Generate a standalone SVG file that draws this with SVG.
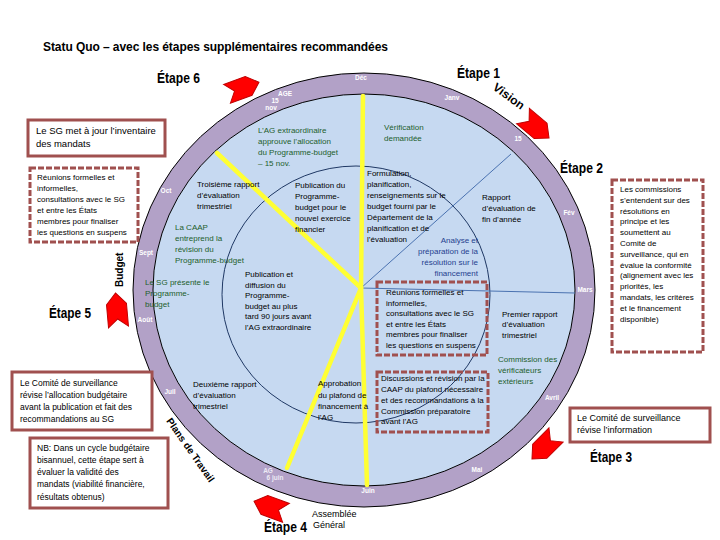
<svg xmlns="http://www.w3.org/2000/svg" width="720" height="540" viewBox="0 0 720 540">
<defs>
<style>
.t{font-family:"Liberation Sans",Arial,sans-serif;font-size:8px;fill:#000}
.g{fill:#1d5e2c}
.n{fill:#1f3f8f}
.m{font-family:"Liberation Sans",Arial,sans-serif;font-size:6.5px;font-weight:bold;fill:#fff;text-anchor:middle}
.h{font-family:"Liberation Sans",Arial,sans-serif;font-weight:bold;font-size:14px;fill:#000}
.lbl{font-family:"Liberation Sans",Arial,sans-serif;font-weight:bold;font-size:10px;fill:#000}
.box{fill:#fff;stroke:#a0504f;stroke-width:3}
.dbox{fill:#fff;stroke:#a0504f;stroke-width:3;stroke-dasharray:6 2}
.dboxi{fill:none;stroke:#a0504f;stroke-width:3;stroke-dasharray:6 2}
.yl{stroke:#ffff33;stroke-width:4.5;fill:none;stroke-linecap:round}
.bl{stroke:#4a72b0;stroke-width:1;fill:none}
.chev{fill:#ff0000;stroke:#c00000;stroke-width:1}
</style>
<path id="chev" d="M -17,-10 L 6,-10 L 17,0 L 6,10 L -17,10 L -9,0 Z"/>
</defs>
<rect width="720" height="540" fill="#fff"/>

<text x="43" y="51" font-family="Liberation Sans, Arial, sans-serif" font-size="12" font-weight="bold" textLength="345" lengthAdjust="spacing">Statu Quo – avec les étapes supplémentaires recommandées</text>

<g id="wheel">
<ellipse cx="364" cy="290" rx="231" ry="217" fill="#b2a1c7" stroke="#000" stroke-width="1"/>
<ellipse cx="364" cy="290" rx="211" ry="196" fill="#c6d9f1" stroke="#000" stroke-width="1"/>
<ellipse cx="356" cy="294.5" rx="134" ry="128.5" fill="none" stroke="#1f3864" stroke-width="1"/>
</g>

<g id="connectors">
<line class="bl" x1="361" y1="288" x2="511" y2="154"/>
<line class="bl" x1="361" y1="288" x2="575" y2="293"/>
<line class="yl" x1="363" y1="96" x2="361" y2="288"/>
<line class="yl" x1="217" y1="153" x2="361" y2="288"/>
<line class="yl" x1="287" y1="468" x2="361" y2="288"/>
<line class="yl" x1="367" y1="485" x2="361" y2="288"/>
</g>

<g id="months">
<text class="m" x="361" y="80">Déc</text>
<text class="m" x="452" y="100">Janv</text>
<text class="m" x="518" y="141">15</text>
<text class="m" x="569" y="215">Fév</text>
<text class="m" x="585" y="292">Mars</text>
<text class="m" x="552" y="400">Avril</text>
<text class="m" x="477" y="472">Mai</text>
<text class="m" x="368" y="493">Juin</text>
<text class="m" x="268" y="473" style="fill:#eceaf4">AG</text>
<text class="m" x="275" y="480" style="fill:#eceaf4">6 juin</text>
<text class="m" x="170" y="394">Juil</text>
<text class="m" x="145" y="322">Août</text>
<text class="m" x="146" y="255">Sept</text>
<text class="m" x="166" y="193">Oct</text>
<text class="m" x="285" y="96">AGE</text>
<text class="m" x="275" y="103">15</text>
<text class="m" x="271" y="110">nov</text>
</g>

<g id="arrows">
<use href="#chev" class="chev" transform="translate(243,88) rotate(-20)"/>
<use href="#chev" class="chev" transform="translate(536,127) rotate(40)"/>
<use href="#chev" class="chev" transform="translate(544,447) rotate(135)"/>
<use href="#chev" class="chev" transform="translate(270,507) rotate(200)"/>
<use href="#chev" class="chev" transform="translate(117,310) rotate(-95)"/>
</g>

<g id="stage-labels">
<text class="h" x="157" y="83" textLength="43" lengthAdjust="spacingAndGlyphs">Étape 6</text>
<text class="h" x="457" y="78" textLength="43" lengthAdjust="spacingAndGlyphs">Étape 1</text>
<text class="h" x="560" y="173" textLength="43" lengthAdjust="spacingAndGlyphs">Étape 2</text>
<text class="h" x="590" y="462" textLength="42" lengthAdjust="spacingAndGlyphs">Étape 3</text>
<text class="h" x="264" y="532" textLength="43" lengthAdjust="spacingAndGlyphs">Étape 4</text>
<text class="h" x="49" y="318" textLength="42" lengthAdjust="spacingAndGlyphs">Étape 5</text>
<text class="lbl" style="font-size:12px" transform="translate(492,89) rotate(36)">Vision</text>
<text class="lbl" transform="translate(123,287) rotate(-90)">Budget</text>
<text class="lbl" transform="translate(166,421) rotate(55)">Plans de Travail</text>
<text class="t" x="312" y="517" style="font-size:9px">Assemblée</text>
<text class="t" x="313" y="528" style="font-size:9px">Général</text>
</g>

<g id="wheel-texts">
<text class="t g" x="258"><tspan x="258" y="133">L’AG extraordinaire</tspan><tspan x="258" y="144">approuve l’allocation</tspan><tspan x="258" y="155">du Programme-budget</tspan><tspan x="258" y="166">– 15 nov.</tspan></text>
<text class="t g"><tspan x="384" y="130">Vérification</tspan><tspan x="384" y="141">demandée</tspan></text>
<text class="t"><tspan x="197" y="187">Troisième rapport</tspan><tspan x="197" y="198">d’évaluation</tspan><tspan x="197" y="209">trimestriel</tspan></text>
<text class="t"><tspan x="295" y="188">Publication du</tspan><tspan x="295" y="199">Programme-</tspan><tspan x="295" y="210">budget pour le</tspan><tspan x="295" y="221">nouvel exercice</tspan><tspan x="295" y="232">financier</tspan></text>
<text class="t"><tspan x="367" y="176">Formulation,</tspan><tspan x="367" y="187">planification,</tspan><tspan x="367" y="198">renseignements sur le</tspan><tspan x="367" y="209">budget fourni par le</tspan><tspan x="367" y="220">Département de la</tspan><tspan x="367" y="231">planification et de</tspan><tspan x="367" y="242">l’évaluation</tspan></text>
<text class="t"><tspan x="482" y="200">Rapport</tspan><tspan x="482" y="211">d’évaluation de</tspan><tspan x="482" y="222">fin d’année</tspan></text>
<text class="t n" text-anchor="end"><tspan x="478" y="243">Analyse et</tspan><tspan x="478" y="254">préparation de la</tspan><tspan x="478" y="265">résolution sur le</tspan><tspan x="478" y="276">financement</tspan></text>
<text class="t g"><tspan x="175" y="230">La CAAP</tspan><tspan x="175" y="241">entreprend la</tspan><tspan x="175" y="252">révision du</tspan><tspan x="175" y="263">Programme-budget</tspan></text>
<text class="t g"><tspan x="145" y="285">Le SG présente le</tspan><tspan x="145" y="296">Programme-</tspan><tspan x="145" y="307">budget</tspan></text>
<text class="t"><tspan x="245" y="277">Publication et</tspan><tspan x="245" y="288">diffusion du</tspan><tspan x="245" y="298">Programme-</tspan><tspan x="245" y="309">budget au plus</tspan><tspan x="245" y="319">tard 90 jours avant</tspan><tspan x="245" y="330">l’AG extraordinaire</tspan></text>
<text class="t"><tspan x="502" y="317">Premier rapport</tspan><tspan x="502" y="327">d’évaluation</tspan><tspan x="502" y="338">trimestriel</tspan></text>
<text class="t g"><tspan x="498" y="362">Commission des</tspan><tspan x="498" y="373">vérificateurs</tspan><tspan x="498" y="384">extérieurs</tspan></text>
<text class="t"><tspan x="193" y="387">Deuxième rapport</tspan><tspan x="193" y="398">d’évaluation</tspan><tspan x="193" y="409">trimestriel</tspan></text>
<text class="t"><tspan x="318" y="386">Approbation</tspan><tspan x="318" y="398">du plafond de</tspan><tspan x="318" y="409">financement à</tspan><tspan x="318" y="420">l’AG</tspan></text>
</g>

<g id="box-inventaire">
<rect class="box" x="28" y="120" width="137" height="36"/>
<text class="t" style="font-size:9.5px"><tspan x="36" y="134">Le SG met à jour l’inventaire</tspan><tspan x="36" y="147">des mandats</tspan></text>
</g>

<g id="box-reunions-gauche">
<rect class="dbox" x="30" y="168" width="108" height="74"/>
<text class="t"><tspan x="37" y="180">Réunions formelles et</tspan><tspan x="37" y="191">informelles,</tspan><tspan x="37" y="202">consultations avec le SG</tspan><tspan x="37" y="213">et entre les États</tspan><tspan x="37" y="224">membres pour finaliser</tspan><tspan x="37" y="235">les questions en suspens</tspan></text>
</g>

<g id="box-comite-allocation">
<rect class="box" x="12" y="372" width="140" height="58"/>
<text class="t" style="font-size:8.5px"><tspan x="20" y="386">Le Comité de surveillance</tspan><tspan x="20" y="398">révise l’allocation budgétaire</tspan><tspan x="20" y="410">avant la publication et fait des</tspan><tspan x="20" y="422">recommandations au SG</tspan></text>
</g>

<g id="box-nb">
<rect class="box" x="30" y="438" width="138" height="70"/>
<text class="t" style="font-size:8.5px"><tspan x="37" y="451">NB: Dans un cycle budgétaire</tspan><tspan x="37" y="463">bisannuel, cette étape sert à</tspan><tspan x="37" y="475">évaluer la validité des</tspan><tspan x="37" y="487">mandats (viabilité financière,</tspan><tspan x="37" y="500">résultats obtenus)</tspan></text>
</g>

<g id="box-reunions-centre">
<rect class="dboxi" x="377" y="282" width="110" height="73"/>
<text class="t"><tspan x="386" y="295">Réunions formelles et</tspan><tspan x="386" y="306">informelles,</tspan><tspan x="386" y="316">consultations avec le SG</tspan><tspan x="386" y="327">et entre les États</tspan><tspan x="386" y="337">membres pour finaliser</tspan><tspan x="386" y="348">les questions en suspens</tspan></text>
</g>

<g id="box-discussions">
<rect class="dboxi" x="377" y="372" width="111" height="60"/>
<text class="t"><tspan x="381" y="381">Discussions et révision par la</tspan><tspan x="381" y="392">CAAP du plafond nécessaire</tspan><tspan x="381" y="403">et des recommandations à la</tspan><tspan x="381" y="414">Commission préparatoire</tspan><tspan x="381" y="424">avant l’AG</tspan></text>
</g>

<g id="box-commissions">
<rect class="dbox" x="612" y="180" width="91" height="172"/>
<text class="t"><tspan x="620" y="192">Les commissions</tspan><tspan x="620" y="203">s’entendent sur des</tspan><tspan x="620" y="214">résolutions en</tspan><tspan x="620" y="224">principe et les</tspan><tspan x="620" y="235">soumettent au</tspan><tspan x="620" y="246">Comité de</tspan><tspan x="620" y="257">surveillance, qui en</tspan><tspan x="620" y="268">évalue la conformité</tspan><tspan x="620" y="278">(alignement avec les</tspan><tspan x="620" y="289">priorités, les</tspan><tspan x="620" y="300">mandats, les critères</tspan><tspan x="620" y="311">et le financement</tspan><tspan x="620" y="322">disponible)</tspan></text>
</g>

<g id="box-comite-information">
<rect class="box" x="570" y="408" width="140" height="34"/>
<text class="t" style="font-size:9px"><tspan x="577" y="421">Le Comité de surveillance</tspan><tspan x="577" y="433">révise l’information</tspan></text>
</g>
</svg>
